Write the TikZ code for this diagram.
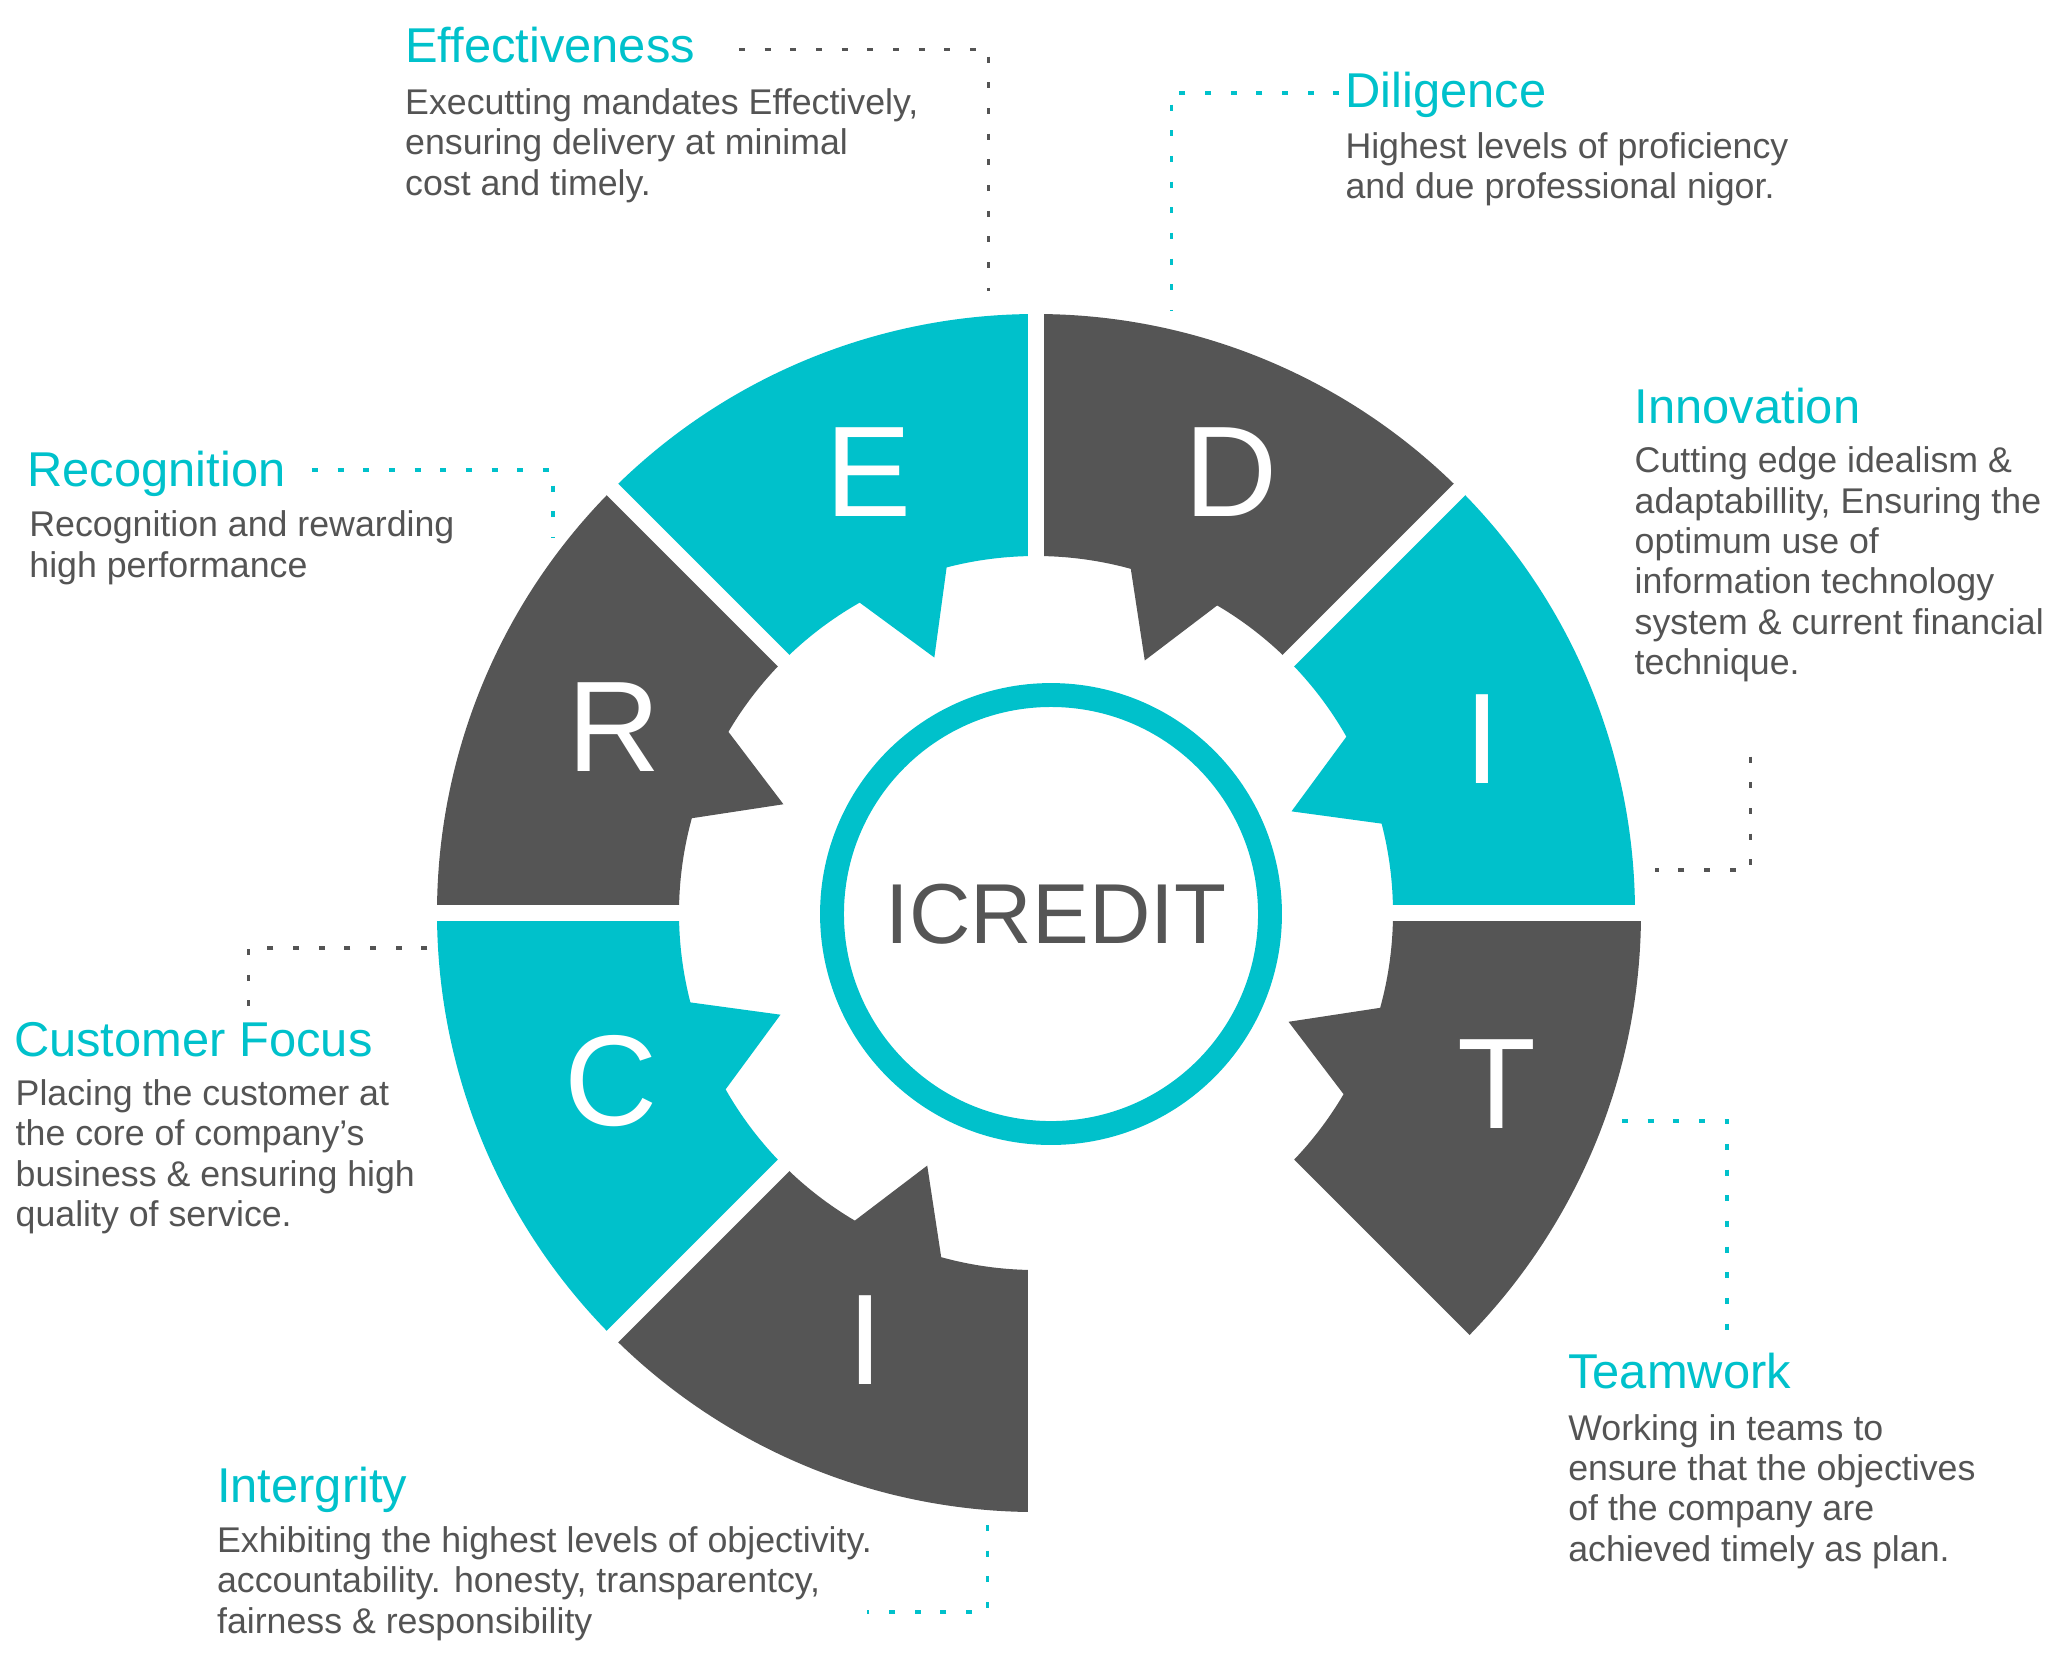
\documentclass[tikz,border=0pt]{standalone}
\usepackage{fontspec}
\setmainfont{Liberation Sans}
\usepackage{tikz}
\usetikzlibrary{calc}
\definecolor{icteal}{HTML}{00C1CB}
\definecolor{icgrey}{HTML}{555555}
\definecolor{ictext}{HTML}{545454}
\tikzset{
  segletter/.style={text=white, inner sep=0pt, font=\fontsize{36.7pt}{40pt}\selectfont},
  headtext/.style={anchor=base west, inner sep=0pt, text=icteal, font=\fontsize{13.9pt}{16pt}\selectfont},
  bodytext/.style={anchor=base west, inner sep=0pt, align=left, text=ictext, font=\fontsize{10.16pt}{11.47pt}\selectfont},
  tealdots/.style={icteal, line width=1pt, dash pattern=on 1.7pt off 5.6pt},
  greydots/.style={ictext, line width=1pt, dash pattern=on 1.7pt off 5.6pt}
}
\newcommand{\gearseg}[3]{\fill[#2] ($(O)+(#1:357)$) -- ($(O)+(#1:#3)$) arc[start angle=#1, end angle=#1+45, radius=#3] -- ($(O)+(#1+45:357)$) arc[start angle=#1+45, end angle=#1+29.6, radius=357] -- ($(O)+(#1+21.7:275)$) -- ($(O)+(#1+14.5:357)$) arc[start angle=#1+14.5, end angle=#1, radius=357] -- cycle;}
\newcommand{\gapcut}[1]{\draw[white, line width=4.6pt] ($(O)+(#1:330)$) -- ($(O)+(#1:650)$);}
\newcommand{\lablletter}[4]{\node[segletter] (#1) at (#2,-#3) {#4};}
\newcommand{\valuehead}[4]{\node[headtext] (#1) at (#2,-#3) {#4};}
% body nodes sit on the baseline of their last line
\newcommand{\valuebody}[4]{\node[bodytext] (#1) at (#2,-#3) {#4};}

\begin{document}
\begin{tikzpicture}[x=0.01cm,y=0.01cm]
        \useasboundingbox (0,0) rectangle (2054,-1653);
        \coordinate (O) at (1036,-913);
        \coordinate (K) at (1051,-914);

        \gearseg{0}{icteal}{599}
        \gearseg{45}{icgrey}{599}
        \gearseg{90}{icteal}{599}
        \gearseg{135}{icgrey}{599}
        \gearseg{180}{icteal}{599}
        \gearseg{225}{icgrey}{599}
        \gearseg{-45}{icgrey}{605}

        \gapcut{0}
        \gapcut{45}
        \gapcut{90}
        \gapcut{135}
        \gapcut{180}
        \gapcut{225}
        \gapcut{270}
        \gapcut{315}

        \draw[icteal, line width=6.8pt] (K) circle[radius=219];
        \node[inner sep=0pt, text=icgrey, font=\fontsize{24.2pt}{28pt}\selectfont] (core) at (1056,-914) {ICREDIT};

        \lablletter{lI}{1482}{738.6}{I}
        \lablletter{lD}{1231}{472.5}{D}
        \lablletter{lE}{869}{472.5}{E}
        \lablletter{lR}{614}{727.3}{R}
        \lablletter{lC}{611.5}{1080.6}{C}
        \lablletter{lIb}{865.5}{1340}{I}
        \lablletter{lT}{1497.4}{1083.9}{T}

        \valuehead{eff}{404.5}{62.7}{Effectiveness}
        \valuebody{effb}{404.5}{195}{Executting mandates Effectively,\\ensuring delivery at minimal\\cost and timely.}
        \valuehead{dil}{1344.8}{107.1}{Diligence}
        \valuebody{dilb}{1344.8}{198.7}{Highest levels of proficiency\\and due professional nigor.}
        \valuehead{inn}{1634}{423.3}{Innovation}
        \valuebody{innb}{1634}{674.5}{Cutting edge idealism \&\\adaptabillity, Ensuring the\\optimum use of\\information technology\\system \& current financial\\technique.}
        \valuehead{rec}{26.8}{486}{Recognition}
        \valuebody{recb}{28.7}{577}{Recognition and rewarding\\high performance}
        \valuehead{cus}{13.3}{1056}{Customer Focus}
        \valuebody{cusb}{15}{1226.5}{Placing the customer at\\the core of company’s\\business \& ensuring high\\quality of service.}
        \valuehead{itg}{216.4}{1502.7}{Intergrity}
        \valuebody{itgb}{216.4}{1633}{Exhibiting the highest levels of objectivity.\\accountability. honesty, transparentcy,\\fairness \& responsibility}
        \valuehead{tea}{1567.6}{1388.3}{Teamwork}
        \valuebody{teab}{1567.6}{1561.3}{Working in teams to\\ensure that the objectives\\of the company are\\achieved timely as plan.}

        \coordinate (effA) at (739,-49.5);
        \coordinate (effB) at (988.5,-49.5);
        \coordinate (effC) at (988.5,-291);
        \draw[greydots] (effA) -- (effB) -- (effC);
        \coordinate (dilA) at (1339.4,-92.9);
        \coordinate (dilB) at (1171.4,-92.9);
        \coordinate (dilC) at (1171.4,-310.3);
        \draw[tealdots] (dilA) -- (dilB) -- (dilC);
        \coordinate (innA) at (1750.7,-756.7);
        \coordinate (innB) at (1750.7,-870);
        \coordinate (innC) at (1655,-870);
        \draw[greydots] (innA) -- (innB) -- (innC);
        \coordinate (recA) at (311.9,-470);
        \coordinate (recB) at (553,-470);
        \coordinate (recC) at (553,-538.3);
        \draw[tealdots] (recA) -- (recB) -- (recC);
        \coordinate (cusA) at (427.3,-948);
        \coordinate (cusB) at (248.7,-948);
        \coordinate (cusC) at (248.7,-1005.8);
        \draw[greydots] (cusA) -- (cusB) -- (cusC);
        \coordinate (itgA) at (987.7,-1525);
        \coordinate (itgB) at (987.7,-1612);
        \coordinate (itgC) at (867,-1612);
        \draw[tealdots] (itgA) -- (itgB) -- (itgC);
        \coordinate (teaA) at (1622,-1120.8);
        \coordinate (teaB) at (1727.2,-1120.8);
        \coordinate (teaC) at (1727.2,-1336);
        \draw[tealdots] (teaA) -- (teaB) -- (teaC);

\end{tikzpicture}
\end{document}
